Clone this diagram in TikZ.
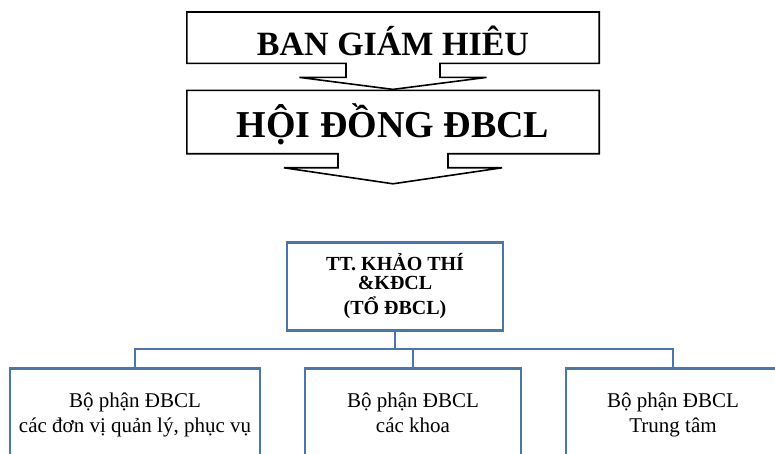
\documentclass[tikz,border=0pt]{standalone}
\usepackage{fontspec}
\setmainfont{Liberation Serif}
\usetikzlibrary{positioning,calc,backgrounds}
\definecolor{orgblue}{RGB}{74,118,168}
\tikzset{
  callbox/.style ={rectangle, inner sep=0pt, minimum width=412pt},
  callout/.style ={draw=black, line width=1.6pt, fill=white, line join=miter},
  ttbox/.style   ={rectangle, draw=orgblue, line width=2.8pt, fill=white, minimum width=216pt,
                   minimum height=88pt, align=center, font=\fontsize{20}{19}\selectfont\bfseries},
  unit/.style    ={rectangle, draw=orgblue, line width=2.8pt, anchor=north, minimum height=96pt,
                   align=center, font=\fontsize{21}{25}\selectfont},
  conn/.style    ={draw=orgblue, line width=2.8pt, line join=miter},
}
\begin{document}
\begin{tikzpicture}[x=1pt, y=-1pt, node distance=27pt]
\useasboundingbox (0,0) rectangle (775,454);
\node[callbox, anchor=north, text height=43pt, text depth=8pt,
      font=\fontsize{34}{40}\selectfont\bfseries] (bgh) at (393,12) {BAN GIÁM HIÊU};
\node[callbox, below=of bgh, text height=47pt, text depth=16pt,
      font=\fontsize{38}{44}\selectfont\bfseries] (hd) {HỘI ĐỒNG ĐBCL};
% callout outlines
\begin{scope}[on background layer]
\draw[callout] (hd.south west) -- (hd.north west) -- (hd.north east) -- (hd.south east)
  -- ($(hd.south)+(55,0)$) -- ++(0,14) -- ++(54,0) -- ($(hd.south)+(0,30)$)
  -- ++(-109,-16) -- ++(54,0) -- ($(hd.south)+(-55,0)$) -- cycle;
\draw[callout] (bgh.south west) -- (bgh.north west) -- (bgh.north east) -- (bgh.south east)
  -- ($(bgh.south)+(47,0)$) -- ++(0,14) -- ++(46.5,0) -- ($(bgh.south)+(0,26)$)
  -- ++(-93.5,-12) -- ++(46.5,0) -- ($(bgh.south)+(-47,0)$) -- cycle;
\end{scope}

\node[ttbox, below=87pt of hd, xshift=2pt] (tt) {TT. KHẢO THÍ\\\&KĐCL\\[6pt](TỔ ĐBCL)};

\begin{scope}
\clip (0,0) rectangle (775,454);
\node[unit, minimum width=250pt] (qly) at (135,367) {Bộ phận ĐBCL\\các đơn vị quản lý, phục vụ\strut};
\node[unit, minimum width=216pt] (khoa) at (413,367) {Bộ phận ĐBCL\\các khoa\strut};
\node[unit, minimum width=214pt] (tam) at (673,367) {Bộ phận ĐBCL\\Trung tâm\strut};
\end{scope}

\coordinate (bus) at (0,349);
\draw[conn] (tt.south) -- (tt.south |- bus);
\draw[conn] (qly.north) |- (tam.north |- bus) -- (tam.north);
\draw[conn] (khoa.north) -- (khoa.north |- bus);
\end{tikzpicture}
\end{document}
